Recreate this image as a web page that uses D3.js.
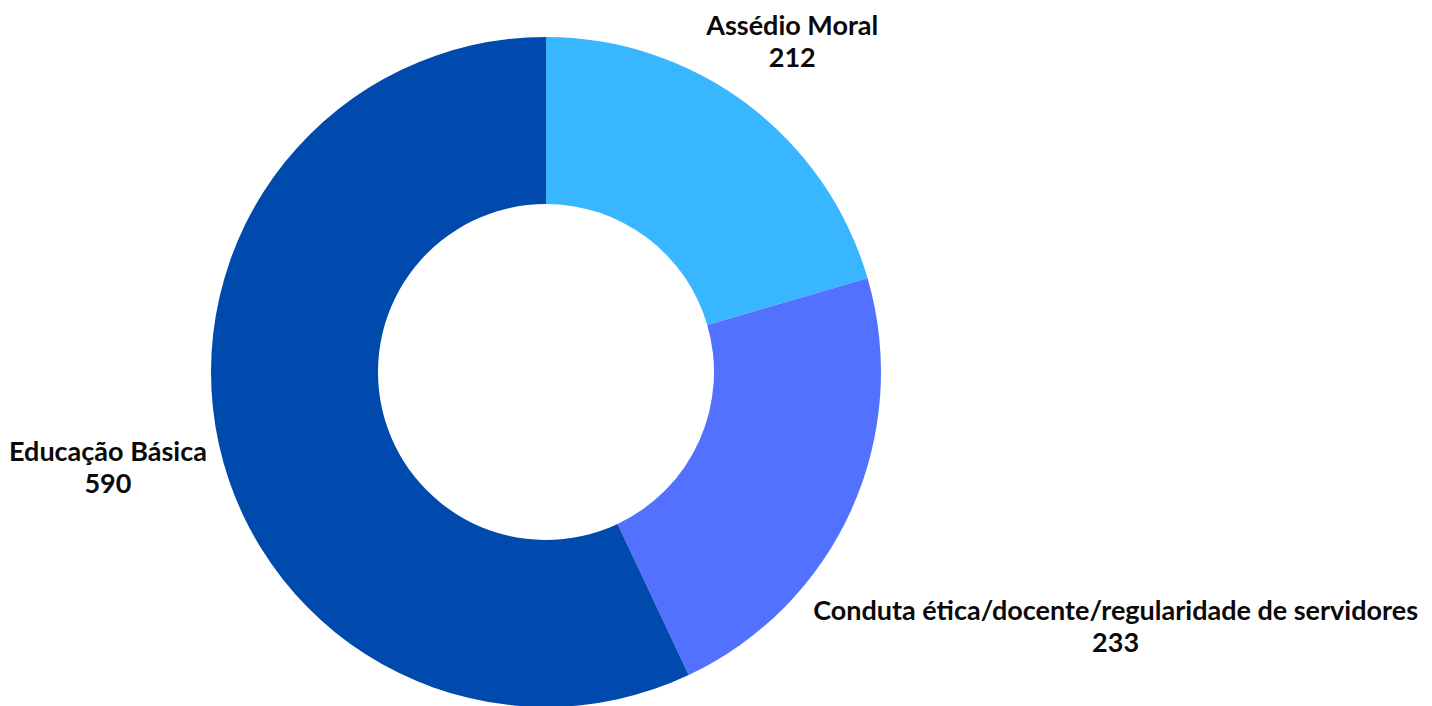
<!DOCTYPE html>
<html>
<head>
<meta charset="utf-8">
<script src="https://cdn.jsdelivr.net/npm/d3@7"></script>
<style>
  body { margin: 0; background: #fff; }
  text { font-family: Lato, "Open Sans", sans-serif; font-weight: 700; fill: #0a0a0a; }
</style>
</head>
<body>
<div id="chart-area"></div>
<script>
// Data
let categories = ['Assédio Moral', 'Conduta ética/docente/regularidade de servidores', 'Educação Básica'];
let values = [212, 233, 590];
let colors = ['#38b6ff', '#5271ff', '#004aad'];

// Chart size
let svgWidth = 1432;
let svgHeight = 706;
let cx = 546, cy = 372;
let outerR = 335, innerR = 168;

// how far out each label sits, as a multiple of the outer radius
let labelDist = [1.225, 1.865, 1.34];

let svg = d3.select('#chart-area')
    .append('svg')
        .attr('width', svgWidth)
        .attr('height', svgHeight);

let g = svg.append('g')
    .attr('transform', 'translate(' + cx + ',' + cy + ')');

let pie = d3.pie().sort(null).value(function(d) { return d; });
let arcs = pie(values);

let arc = d3.arc().innerRadius(innerR).outerRadius(outerR);

g.selectAll('path')
    .data(arcs)
    .enter()
    .append('path')
        .attr('d', arc)
        .attr('fill', function(d, i) { return colors[i]; });

// Labels
arcs.forEach(function(d, i) {
    let mid = (d.startAngle + d.endAngle) / 2;
    let r = outerR * labelDist[i];
    let x = Math.sin(mid) * r;
    let y = -Math.cos(mid) * r;
    let t = g.append('text')
        .attr('text-anchor', 'middle')
        .attr('font-size', '27px')
        .attr('x', x)
        .attr('y', y - 9);
    t.append('tspan').attr('x', x).text(categories[i]);
    t.append('tspan').attr('x', x).attr('dy', 32).text(values[i]);
});
</script>
</body>
</html>
